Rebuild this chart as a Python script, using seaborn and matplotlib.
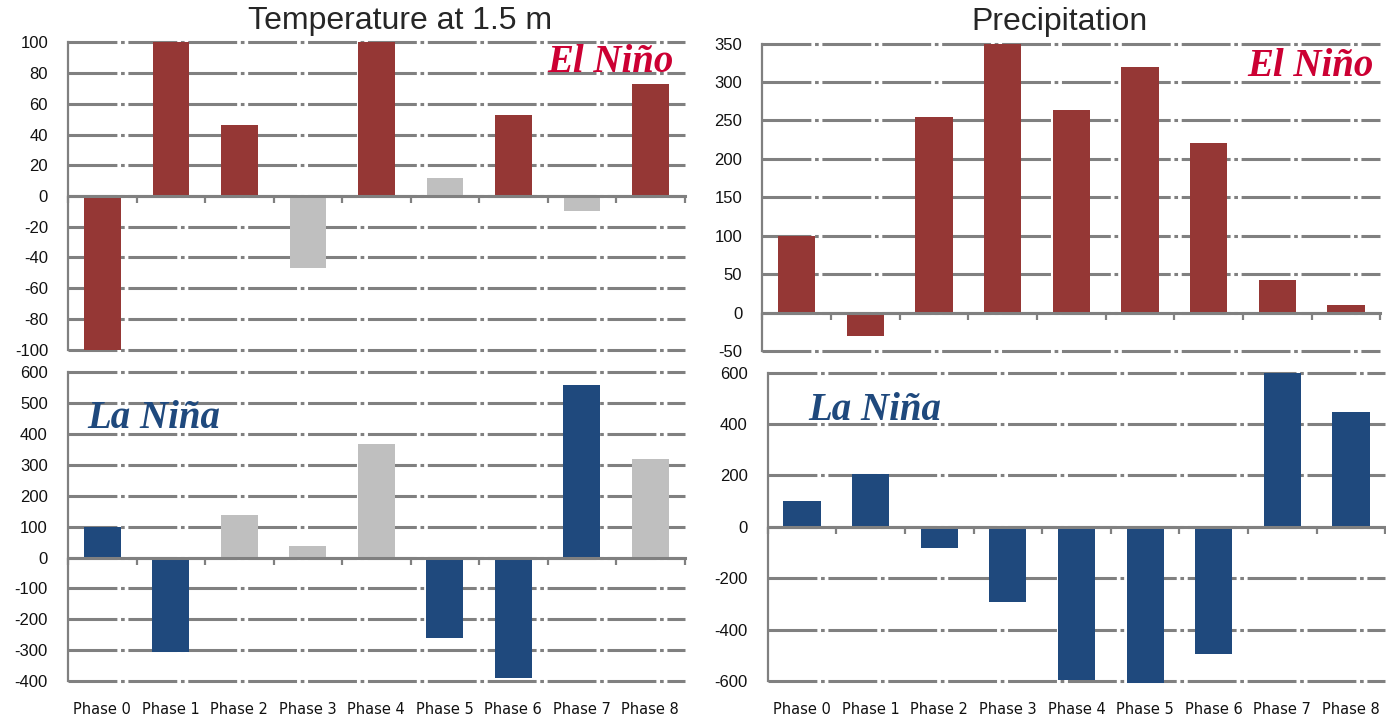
import matplotlib
matplotlib.use('Agg')
import matplotlib.pyplot as plt
import seaborn as sns
import numpy as np
import pandas as pd

# ---- data ----
phases = ['Phase 0', 'Phase 1', 'Phase 2', 'Phase 3', 'Phase 4',
          'Phase 5', 'Phase 6', 'Phase 7', 'Phase 8']

temp_el_nino = [-100, 100, 46, -47, 100, 12, 53, -10, 73]
temp_el_sig = [1, 1, 1, 0, 1, 0, 1, 0, 1]

temp_la_nina = [100, -305, 137, 38, 368, -260, -389, 560, 320]
temp_la_sig = [1, 1, 0, 0, 0, 1, 1, 1, 0]

precip_el_nino = [100, -30, 254, 350, 263, 319, 220, 42, 10]
precip_el_sig = [1, 1, 1, 1, 1, 1, 1, 1, 1]

precip_la_nina = [100, 204, -84, -293, -596, -608, -495, 600, 448]
precip_la_sig = [1, 1, 1, 1, 1, 1, 1, 1, 1]

RED = '#953735'
BLUE = '#1F497D'
GREY_BAR = '#BFBFBF'
GRID = '#808080'

sns.set_style('white')
plt.rcParams['font.family'] = ['Liberation Sans', 'DejaVu Sans']
plt.rcParams['axes.unicode_minus'] = False

W, H = 1386, 719
fig = plt.figure(figsize=(W / 100, H / 100), dpi=100)


def panel(rect, values, sig, color, ylim, step, show_x):
    ax = fig.add_axes(rect)
    df = pd.DataFrame({'phase': phases, 'value': values,
                       'sig': ['yes' if s else 'no' for s in sig]})
    sns.barplot(data=df, x='phase', y='value', hue='sig', order=phases,
                palette={'yes': color, 'no': GREY_BAR}, dodge=False,
                width=0.54, saturation=1, linewidth=0, errorbar=None,
                legend=False, ax=ax)
    for p in ax.patches:
        p.set_clip_on(False)
    ax.set_xlim(-0.5, len(phases) - 0.5)
    ax.set_ylim(*ylim)
    ax.set_yticks(np.arange(ylim[0], ylim[1] + 1, step))
    ax.set_xlabel('')
    ax.set_ylabel('')
    ax.set_axisbelow(True)

    # dash-dot gridlines like the Excel original
    ax.yaxis.grid(True, color=GRID, linewidth=2.2, dashes=(16, 1.2, 1.2, 1.2))
    for gl in ax.get_ygridlines():
        gl.set_clip_on(False)

    for s in ['top', 'right', 'bottom']:
        ax.spines[s].set_visible(False)
    ax.spines['left'].set_color(GRID)
    ax.spines['left'].set_linewidth(1.6)
    ax.tick_params(axis='y', direction='out', length=5.5, width=1.6,
                   color=GRID, labelsize=12, pad=9, labelcolor='#111111')

    if show_x:
        ax.tick_params(axis='x', length=0, pad=15, labelsize=10.5,
                       labelcolor='#111111')
        for lab in ax.get_xticklabels():
            lab.set_fontfamily('DejaVu Sans')
    else:
        ax.tick_params(axis='x', length=0, labelbottom=False)

    # zero line with category-boundary ticks
    loc = (0 - ylim[0]) / (ylim[1] - ylim[0])
    sec = ax.secondary_xaxis(loc)
    sec.set_alignment('bottom')
    sec.set_xticks(np.arange(-0.5, len(phases), 1.0))
    sec.tick_params(axis='x', direction='out', length=5, width=1.6,
                    color=GRID, labelbottom=False, labeltop=False)
    sec.spines['bottom'].set_color(GRID)
    sec.spines['bottom'].set_linewidth(2.2)
    sec.set_zorder(3)
    return ax


panel([68.25 / W, 1 - 349.7 / H, 616.5 / W, 307.4 / H],
      temp_el_nino, temp_el_sig, RED, (-100, 100), 20, False)
panel([762.3 / W, 1 - 351 / H, 618 / W, 307.5 / H],
      precip_el_nino, precip_el_sig, RED, (-50, 350), 50, False)
panel([68 / W, 1 - 681 / H, 616.5 / W, 308.7 / H],
      temp_la_nina, temp_la_sig, BLUE, (-400, 600), 100, True)
panel([767.7 / W, 1 - 681 / H, 617.6 / W, 308.3 / H],
      precip_la_nina, precip_la_sig, BLUE, (-600, 600), 200, True)

# titles
fig.text(400 / W, 1 - 21 / H, 'Temperature at 1.5 m', ha='center', va='center',
         fontsize=23, color='#262626')
fig.text(1059 / W, 1 - 22 / H, 'Precipitation', ha='center', va='center',
         fontsize=23, color='#262626')

# El Niño / La Niña tags
tag = dict(ha='center', va='center', fontsize=28, fontweight='bold',
           fontstyle='italic', family=['Liberation Serif', 'DejaVu Serif'])
fig.text(610 / W, 1 - 63 / H, 'El Niño', color='#CC0033', **tag)
fig.text(1310 / W, 1 - 66 / H, 'El Niño', color='#CC0033', **tag)
fig.text(154 / W, 1 - 418 / H, 'La Niña', color=BLUE, **tag)
fig.text(875 / W, 1 - 410 / H, 'La Niña', color=BLUE, **tag)

fig.savefig('out.png', dpi=100, facecolor='white')
